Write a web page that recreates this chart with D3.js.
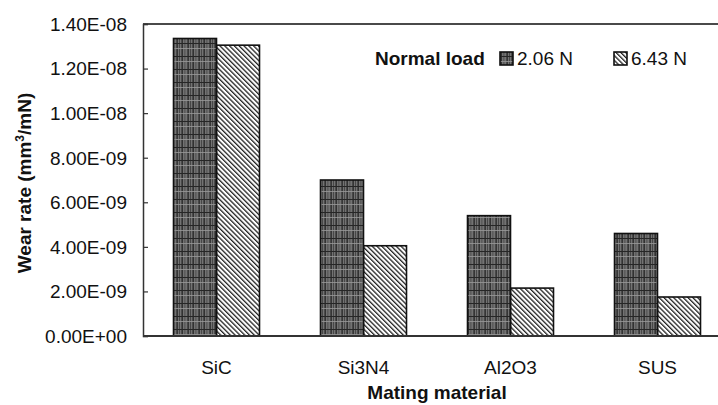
<!DOCTYPE html>
<html>
<head>
<meta charset="utf-8">
<script src="https://cdn.jsdelivr.net/npm/d3@7"></script>
<style>
  body { margin: 0; background: #fff; }
  text { font-family: "Liberation Sans", Arial, sans-serif; fill: #111; }
</style>
</head>
<body>
<div id="chart"></div>
<script>
// wear rate per mating material, two normal loads
var materials = ["SiC", "Si3N4", "Al2O3", "SUS"];
var loads = ["2.06 N", "6.43 N"];
var rateLow = [1.335e-8, 7.0e-9, 5.4e-9, 4.6e-9];   // 2.06 N
var rateHigh = [1.305e-8, 4.05e-9, 2.15e-9, 1.75e-9]; // 6.43 N
var yTicks = [0, 2e-9, 4e-9, 6e-9, 8e-9, 1e-8, 1.2e-8, 1.4e-8];
var yTickLabels = ["0.00E+00", "2.00E-09", "4.00E-09", "6.00E-09", "8.00E-09", "1.00E-08", "1.20E-08", "1.40E-08"];

var width = 718, height = 405;
var margin = {top: 24, left: 143, bottom: 69};
var plotRight = 731; // frame runs off the right edge

var svg = d3.select("#chart").append("svg")
    .attr("width", width)
    .attr("height", height);

var defs = svg.append("defs");

// dark streaky fill for the low load
var dark = defs.append("pattern")
    .attr("id", "darkFill")
    .attr("patternUnits", "userSpaceOnUse")
    .attr("width", 11)
    .attr("height", 13);
dark.append("rect").attr("width", 11).attr("height", 13).attr("fill", "#737373");
[[0.5, 1.2, "#1c1c1c"], [3, 0.8, "#3c3c3c"], [5.5, 1.3, "#222"], [8.5, 0.8, "#444"]].forEach(function (v) {
    dark.append("rect").attr("x", v[0]).attr("width", v[1]).attr("height", 13).attr("fill", v[2]);
});
dark.append("rect").attr("y", 4).attr("width", 11).attr("height", 1).attr("fill", "#262626");
dark.append("rect").attr("y", 9).attr("width", 11).attr("height", 0.8).attr("fill", "#9a9a9a");

// diagonal hatch for the high load
var hatch = defs.append("pattern")
    .attr("id", "hatchFill")
    .attr("patternUnits", "userSpaceOnUse")
    .attr("width", 3.4)
    .attr("height", 10)
    .attr("patternTransform", "rotate(-45)");
hatch.append("rect").attr("width", 3.4).attr("height", 10).attr("fill", "#fff");
hatch.append("rect").attr("width", 1.3).attr("height", 10).attr("fill", "#222");

var y = d3.scaleLinear()
    .domain([0, 1.4e-8])
    .range([height - margin.bottom, margin.top]);

var x0 = d3.scaleBand()
    .domain(materials)
    .range([margin.left, plotRight])
    .paddingInner(0.415)
    .paddingOuter(0.2075);

var x1 = d3.scaleBand()
    .domain(loads)
    .range([0, x0.bandwidth()]);

var fills = {"2.06 N": "url(#darkFill)", "6.43 N": "url(#hatchFill)"};

var rows = [];
materials.forEach(function (m, i) {
    rows.push({material: m, load: loads[0], value: rateLow[i]});
    rows.push({material: m, load: loads[1], value: rateHigh[i]});
});

// top frame line
svg.append("line")
    .attr("x1", margin.left).attr("x2", width)
    .attr("y1", y(1.4e-8)).attr("y2", y(1.4e-8))
    .attr("stroke", "#4a4a4a")
    .attr("stroke-width", 2.2);

// bars (hatched drawn first so the dark outline sits on top)
svg.append("g").selectAll("rect")
    .data(rows.slice().sort(function (a, b) { return a.load === loads[1] ? -1 : 1; }))
    .join("rect")
    .attr("x", function (d) { return x0(d.material) + x1(d.load); })
    .attr("y", function (d) { return y(d.value); })
    .attr("width", x1.bandwidth())
    .attr("height", function (d) { return y(0) - y(d.value); })
    .attr("fill", function (d) { return fills[d.load]; })
    .attr("stroke", "#111")
    .attr("stroke-width", 1.6);

// y axis with inward ticks
var yAxis = svg.append("g")
    .attr("transform", "translate(" + margin.left + ",0)")
    .call(d3.axisRight(y).tickValues(yTicks).tickSize(5).tickFormat(""));
yAxis.select(".domain").attr("stroke", "#333").attr("stroke-width", 1.5);
yAxis.selectAll(".tick line").attr("stroke", "#333").attr("stroke-width", 1.2);

svg.append("g").selectAll("text")
    .data(yTicks)
    .join("text")
    .attr("x", 127)
    .attr("y", function (d) { return y(d); })
    .attr("dy", "0.36em")
    .attr("text-anchor", "end")
    .style("font-size", "19px")
    .text(function (d, i) { return yTickLabels[i]; });

// x axis baseline
svg.append("line")
    .attr("x1", margin.left).attr("x2", width)
    .attr("y1", y(0)).attr("y2", y(0))
    .attr("stroke", "#333")
    .attr("stroke-width", 1.8);

svg.append("g").selectAll("text")
    .data(materials)
    .join("text")
    .attr("x", function (d) { return x0(d) + x0.bandwidth() / 2; })
    .attr("y", 374)
    .attr("text-anchor", "middle")
    .style("font-size", "19px")
    .text(function (d) { return d; });

// axis titles
svg.append("text")
    .attr("x", (margin.left + plotRight) / 2)
    .attr("y", 399)
    .attr("text-anchor", "middle")
    .style("font-size", "19px")
    .style("font-weight", "bold")
    .text("Mating material");

var yTitle = svg.append("text")
    .attr("transform", "translate(31,183) rotate(-90)")
    .attr("text-anchor", "middle")
    .style("font-size", "19px")
    .style("font-weight", "bold");
yTitle.append("tspan").text("Wear rate (mm");
yTitle.append("tspan").attr("baseline-shift", "super").style("font-size", "12px").text("3");
yTitle.append("tspan").text("/mN)");

// legend
var legend = svg.append("g");
legend.append("text")
    .attr("x", 375).attr("y", 65)
    .style("font-size", "19px")
    .style("font-weight", "bold")
    .text("Normal load");

var legendX = [500, 614];
loads.forEach(function (l, i) {
    legend.append("rect")
        .attr("x", legendX[i]).attr("y", 52)
        .attr("width", 13).attr("height", 13)
        .attr("fill", fills[l])
        .attr("stroke", "#111")
        .attr("stroke-width", 1.6);
    legend.append("text")
        .attr("x", legendX[i] + 17).attr("y", 65)
        .style("font-size", "19px")
        .text(l);
});
</script>
</body>
</html>
